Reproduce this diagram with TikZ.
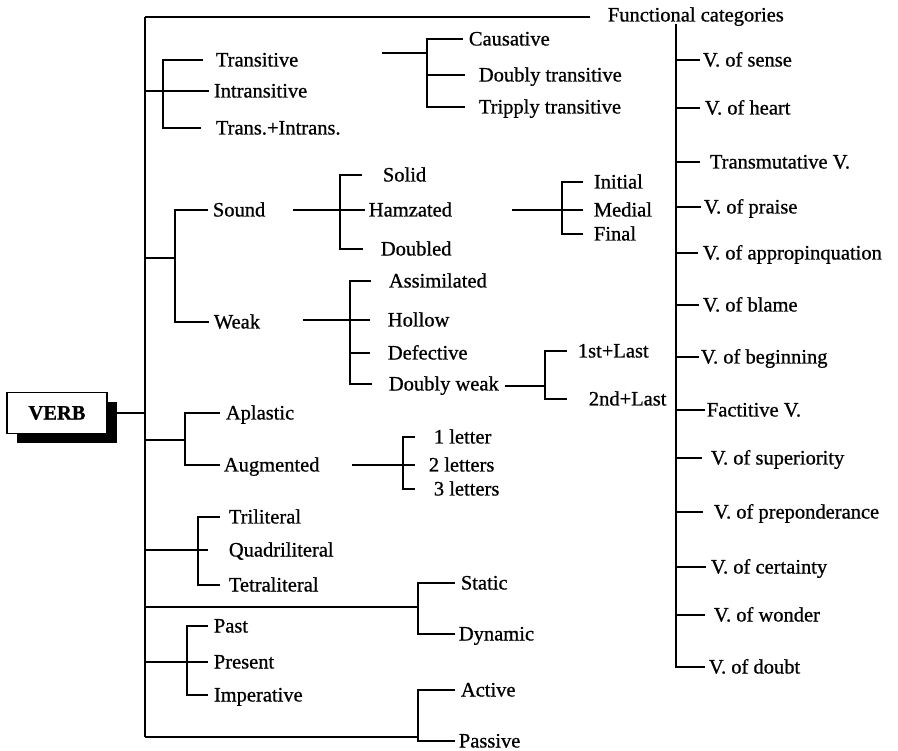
\documentclass[tikz,border=0pt]{standalone}
\usepackage{fontspec}
\setmainfont{Liberation Serif}[FakeBold=0.8]
\usetikzlibrary{shadows}
\tikzset{
  lbl/.style={anchor=west, inner sep=0pt, text height=14pt, text depth=1pt,
              font=\fontsize{20.5}{23}\selectfont},
  verbbox/.style={draw, line width=1.8pt, fill=white, minimum width=100pt, minimum height=41pt,
              font=\fontsize{20.5}{23}\selectfont\bfseries,
              drop shadow={shadow xshift=10pt, shadow yshift=-10pt, fill=black, opacity=1}}
}
\begin{document}
\begin{tikzpicture}[x=1pt, y=-1pt, line width=1.8pt]
  \useasboundingbox (0,0) rectangle (898,751);
  \coordinate (top) at (145,17);
  \coordinate (bot) at (145,737);
  \node[verbbox] (verb) at (57,413) {VERB};
  \draw (top) -- (bot);
  \draw (verb.east) -- (top |- verb.east);

  \node[lbl] (fc) at (607,15) {Functional categories};
  \coordinate (fcend) at (590,17);
  \draw (top) -- (fcend);

  % transitivity
  \node[lbl] (tr) at (215,60) {Transitive};
  \node[lbl] (intr) at (213,91) {Intransitive};
  \node[lbl] (trin) at (215,128) {Trans.+Intrans.};
  \coordinate (jt) at (163,91);
  \draw (top |- jt) -- ([xshift=-4pt]intr.west);
  \draw ([xshift=-12pt]tr.west) -| (jt) |- ([xshift=-14pt]trin.west);

  \node[lbl] (caus) at (468,39) {Causative};
  \node[lbl] (dbt) at (478,75) {Doubly transitive};
  \node[lbl] (trt) at (478,107) {Tripply transitive};
  \coordinate (cin) at (382,53);
  \coordinate (jc) at (427,53);
  \draw (cin) -- (jc);
  \draw ([xshift=-5pt]caus.west) -| (jc) |- ([xshift=-13pt]trt.west);
  \draw (jc |- dbt) -- ([xshift=-13pt]dbt.west);

  % sound / weak
  \node[lbl] (snd) at (212,210) {Sound};
  \node[lbl] (wk) at (213,322) {Weak};
  \coordinate (jsw) at (175,258);
  \draw (top |- jsw) -- (jsw);
  \draw ([xshift=-4pt]snd.west) -| (jsw) |- ([xshift=-4pt]wk.west);

  \node[lbl] (sol) at (382,175) {Solid};
  \node[lbl] (hmz) at (368,210) {Hamzated};
  \node[lbl] (dbl) at (380,249) {Doubled};
  \coordinate (sin) at (293,210);
  \coordinate (js) at (340,210);
  \draw (sin) -- ([xshift=-3pt]hmz.west);
  \draw ([xshift=-20pt]sol.west) -| (js) |- ([xshift=-17pt]dbl.west);

  \node[lbl] (ini) at (593,182) {Initial};
  \node[lbl] (med) at (593,210) {Medial};
  \node[lbl] (fin) at (593,234) {Final};
  \coordinate (hin) at (512,210);
  \coordinate (jh) at (562,210);
  \draw (hin) -- ([xshift=-10pt]med.west);
  \draw ([xshift=-10pt]ini.west) -| (jh) |- ([xshift=-10pt]fin.west);

  \node[lbl] (asm) at (388,281) {Assimilated};
  \node[lbl] (hol) at (387,320) {Hollow};
  \node[lbl] (def) at (387,353) {Defective};
  \node[lbl] (dw) at (388,384) {Doubly weak};
  \coordinate (win) at (303,320);
  \coordinate (jw) at (350,320);
  \draw (win) -- ([xshift=-17pt]hol.west);
  \draw ([xshift=-17pt]asm.west) -| (jw) |- ([xshift=-16pt]dw.west);
  \draw (jw |- def) -- ([xshift=-17pt]def.west);

  \node[lbl] (fl) at (577,351) {1st+Last};
  \node[lbl] (sl) at (588,399) {2nd+Last};
  \coordinate (dwin) at (505,386);
  \coordinate (jd) at (545,386);
  \draw (dwin) -- (jd);
  \draw ([xshift=-10pt]fl.west) -| (jd) |- ([xshift=-21pt]sl.west);

  % aplastic / augmented
  \node[lbl] (apl) at (225,413) {Aplastic};
  \node[lbl] (aug) at (223,465) {Augmented};
  \coordinate (ja) at (185,440);
  \draw (top |- ja) -- (ja);
  \draw ([xshift=-5pt]apl.west) -| (ja) |- ([xshift=-3pt]aug.west);

  \node[lbl] (l1) at (433,437) {1 letter};
  \node[lbl] (l2) at (428,465) {2 letters};
  \node[lbl] (l3) at (433,489) {3 letters};
  \coordinate (ain) at (352,465);
  \coordinate (jl) at (403,465);
  \draw (ain) -- ([xshift=-13pt]l2.west);
  \draw ([xshift=-18pt]l1.west) -| (jl) |- ([xshift=-18pt]l3.west);

  % root letters
  \node[lbl] (tri) at (228,517) {Triliteral};
  \node[lbl] (quad) at (228,550) {Quadriliteral};
  \node[lbl] (tet) at (228,585) {Tetraliteral};
  \coordinate (jq) at (198,550);
  \draw (top |- quad) -- ([xshift=-20pt]quad.west);
  \draw ([xshift=-8pt]tri.west) -| (jq) |- ([xshift=-8pt]tet.west);

  \node[lbl] (sta) at (460,583) {Static};
  \node[lbl] (dyn) at (458,634) {Dynamic};
  \coordinate (jsd) at (418,607);
  \draw (top |- jsd) -- (jsd);
  \draw ([xshift=-5pt]sta.west) -| (jsd) |- ([xshift=-3pt]dyn.west);

  % tense
  \node[lbl] (past) at (213,626) {Past};
  \node[lbl] (pres) at (213,662) {Present};
  \node[lbl] (imp) at (213,695) {Imperative};
  \coordinate (jp) at (187,662);
  \draw (top |- pres) -- ([xshift=-5pt]pres.west);
  \draw ([xshift=-5pt]past.west) -| (jp) |- ([xshift=-5pt]imp.west);

  \node[lbl] (act) at (460,690) {Active};
  \node[lbl] (pas) at (458,741) {Passive};
  \coordinate (jap) at (418,737);
  \draw (bot) -- (jap);
  \draw ([xshift=-5pt]act.west) -| (jap) |- ([xshift=-3pt]pas.west);

  % functional categories
  \coordinate (fvtop) at (676,24);
  \coordinate (fvbot) at (676,668);
  \draw (fvtop) -- (fvbot);
  \foreach \n/\x/\y/\g/\t in {sense/702/60/2pt/V. of sense, heart/704/108/4pt/V. of heart,
      trans/709/162/9pt/Transmutative V., praise/703/207/2pt/V. of praise,
      approp/702/253/4pt/V. of appropinquation, blame/702/305/3pt/V. of blame,
      begin/700/357/1pt/V. of beginning, fact/706/410/1pt/Factitive V.,
      sup/710/458/8pt/V. of superiority, prep/713/512/10pt/V. of preponderance,
      cert/710/567/4pt/V. of certainty, wond/713/615/8pt/V. of wonder,
      doubt/708/667/3pt/V. of doubt} {
    \node[lbl] (f\n) at (\x,\y) {\t};
    \draw (fvtop |- f\n) -- ([xshift=-\g]f\n.west);
  }
\end{tikzpicture}
\end{document}
